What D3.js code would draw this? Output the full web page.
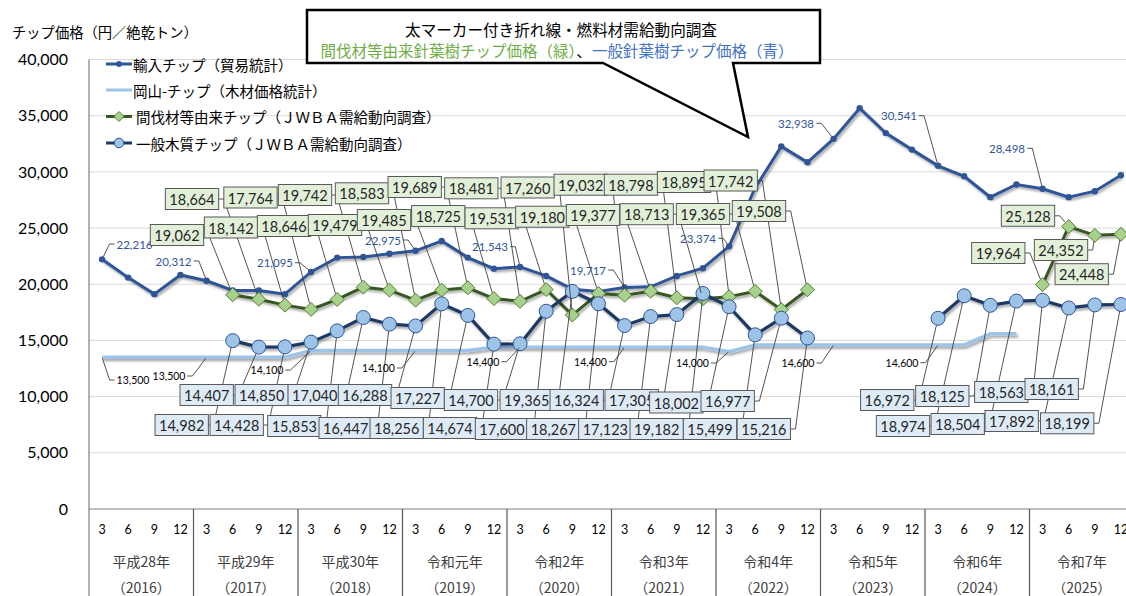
<!DOCTYPE html>
<html>
<head>
<meta charset="utf-8">
<script src="https://cdn.jsdelivr.net/npm/d3@7"></script>
<style>
  body { margin: 0; background: #fff; }
  svg { display: block; font-family: Lato, "Noto Sans CJK JP", sans-serif; }
  .jp { font-family: "Noto Sans CJK JP", sans-serif; }
</style>
</head>
<body>
<script>
// ---- data (quarterly, Mar 2016 .. Dec 2025) ----
var eraYears = ["平成28年", "平成29年", "平成30年", "令和元年", "令和2年", "令和3年", "令和4年", "令和5年", "令和6年", "令和7年"];
var westYears = ["（2016）", "（2017）", "（2018）", "（2019）", "（2020）", "（2021）", "（2022）", "（2023）", "（2024）", "（2025）"];
var months = ["3", "6", "9", "12"];

var seriesNames = ["輸入チップ（貿易統計）", "岡山-チップ（木材価格統計）",
  "間伐材等由来チップ（ＪＷＢＡ需給動向調査）", "一般木質チップ（ＪＷＢＡ需給動向調査）"];

// 輸入チップ
var importChip = [22216, 20590, 19120, 20830, 20312, 19450, 19450, 19120,
  21095, 22370, 22430, 22720, 22975, 23850, 22370, 21390,
  21543, 20740, 19560, 19350, 19717, 19770, 20740, 21430,
  23374, 28570, 32270, 30850, 32938, 35670, 33450, 31980,
  30541, 29610, 27750, 28880, 28498, 27750, 28280, 29700];
// 岡山-チップ
var okayamaChip = [13500, 13500, 13500, 13500, 13500, 13500, 13500, 13500,
  14100, 14100, 14100, 14100, 14100, 14100, 14100, 14400,
  14400, 14400, 14400, 14400, 14400, 14400, 14400, 14400,
  14000, 14600, 14600, 14600, 14600, 14600, 14600, 14600,
  14600, 14600, 15600, 15600];
// 間伐材等由来チップ
var thinningChip = [null, null, null, null, null, 19062, 18664, 18142,
  17764, 18646, 19742, 19479, 18583, 19485, 19689, 18725,
  18481, 19531, 17260, 19180, 19032, 19377, 18798, 18713,
  18895, 19365, 17742, 19508, null, null, null, null,
  null, null, null, null, 19964, 25128, 24352, 24448];
// 一般木質チップ
var generalChip = [null, null, null, null, null, 14982, 14407, 14428,
  14850, 15853, 17040, 16447, 16288, 18256, 17227, 14674,
  14700, 17600, 19365, 18267, 16324, 17123, 17305, 19182,
  18002, 15499, 16977, 15216, null, null, null, null,
  16972, 18974, 18125, 18504, 18563, 17892, 18161, 18199];

var importLabelIdx = [0, 4, 8, 12, 16, 20, 24, 28, 32, 36];
var okayamaLabelIdx = [0, 4, 8, 12, 16, 20, 24, 28, 32];

// ---- label layout (label centres, pixels) ----
var importLabelAt = [[134.5, 244], [173.5, 261], [275, 262.7], [383, 240], [490, 246.7],
  [588, 270], [698, 238.3], [796, 123.3], [899, 115.7], [1007, 148.3]];
var okayamaLabelAt = [[133, 380], [169, 376], [267, 370], [378.5, 368], [483, 361.7],
  [590.5, 361.7], [692.5, 363], [798, 363], [902, 362.7]];
var thinningLabelAt = [[177, 235], [192, 199], [231, 227.5], [250.5, 197.5], [284, 226], [305, 195],
  [335, 225], [362, 193.3], [384, 220], [414.7, 187], [438.3, 216], [471.3, 188.3], [491.7, 218.3],
  [527.7, 187.5], [542.3, 216.7], [580.7, 184.7], [593, 215], [631, 184.7], [646.7, 214.2],
  [684, 182], [703, 214], [730.7, 180.5], [759, 211],
  [998.3, 253], [1028, 215.8], [1061, 250], [1081.7, 274.2]];
var generalLabelAt = [[181.7, 425], [206.7, 395], [236.7, 425], [261.7, 395], [294.3, 426], [314.7, 395],
  [345.7, 428], [365, 395], [396.7, 428], [417.7, 398], [450, 428], [471, 400], [502, 429],
  [526.7, 400], [553.3, 429], [576.7, 400], [605.3, 429], [631.7, 400], [656.7, 429],
  [676.3, 402.5], [710, 429], [727.7, 401], [763.8, 429],
  [887.2, 400], [903, 426], [942.3, 396], [957.7, 424], [1001.3, 392], [1011.7, 421],
  [1051.7, 389], [1067.2, 423.3]];

// ---- chart ----
var W = 1126, H = 596;
var svg = d3.select("body").append("svg").attr("width", W).attr("height", H);

var defs = svg.append("defs");
defs.append("filter").attr("id", "sh").attr("x", "-5%").attr("y", "-20%")
    .attr("width", "110%").attr("height", "140%")
  .append("feDropShadow").attr("dx", 1.5).attr("dy", 2.2).attr("stdDeviation", 1)
    .attr("flood-color", "#000").attr("flood-opacity", 0.35);

var x = d3.scaleBand().domain(d3.range(40)).range([89, 1134]);
var y = d3.scaleLinear().domain([0, 40000]).range([509, 59.5]);
function px(i) { return x(i) + x.bandwidth() / 2; }
var fmt = d3.format(",");

// gridlines
svg.append("g").selectAll("line")
  .data(d3.range(5000, 40001, 5000))
  .join("line")
  .attr("x1", 89).attr("x2", W)
  .attr("y1", d => y(d)).attr("y2", d => y(d))
  .attr("stroke", "#d9d9d9").attr("stroke-width", 1);

// y axis
var yAxis = svg.append("g").attr("transform", "translate(89,0)")
  .call(d3.axisLeft(y).tickValues(d3.range(0, 40001, 5000)).tickSize(0).tickPadding(21).tickFormat(fmt));
yAxis.select(".domain").remove();
yAxis.selectAll("text").attr("font-family", "Lato").attr("font-size", 16).attr("fill", "#000");

svg.append("text").attr("class", "jp").attr("x", 12).attr("y", 38)
  .attr("font-size", 14.3).attr("fill", "#000").text("チップ価格（円／絶乾トン）");

// x axis as a table
var xAxis = svg.append("g").attr("transform", "translate(0,509)")
  .call(d3.axisBottom(x).tickSize(0).tickPadding(16).tickFormat(i => months[i % 4]));
xAxis.select(".domain").remove();
xAxis.selectAll("text").attr("font-family", "Lato").attr("font-size", 12.5).attr("fill", "#000");

svg.append("line").attr("x1", 89).attr("x2", W).attr("y1", y(0)).attr("y2", y(0))
  .attr("stroke", "#7f7f7f").attr("stroke-width", 1.2);
svg.append("line").attr("x1", 89).attr("x2", 89).attr("y1", y(40000)).attr("y2", H)
  .attr("stroke", "#7f7f7f").attr("stroke-width", 1.2);
svg.append("g").selectAll("line")
  .data(d3.range(1, 11))
  .join("line")
  .attr("x1", d => x(0) + d * 4 * x.bandwidth()).attr("x2", d => x(0) + d * 4 * x.bandwidth())
  .attr("y1", y(0)).attr("y2", H)
  .attr("stroke", "#595959").attr("stroke-width", 1.2);

var yearG = svg.append("g").attr("class", "jp").attr("text-anchor", "middle").attr("fill", "#404040");
yearG.selectAll("text.era").data(eraYears).join("text").attr("class", "era")
  .attr("x", (d, i) => x(i * 4) + 2 * x.bandwidth()).attr("y", 566.5)
  .attr("font-size", 14).text(d => d);
yearG.selectAll("text.west").data(westYears).join("text").attr("class", "west")
  .attr("x", (d, i) => x(i * 4) + 2 * x.bandwidth()).attr("y", 592.5)
  .attr("font-size", 14).text(d => d);

// lines
function lineOf(arr) {
  return d3.line().defined(d => d != null).x((d, i) => px(i)).y(d => y(d))(arr);
}

svg.append("path").attr("d", lineOf(okayamaChip)).attr("fill", "none")
  .attr("stroke", "#9dc3e6").attr("stroke-width", 3.5).attr("filter", "url(#sh)");

svg.append("path").attr("d", lineOf(importChip)).attr("fill", "none")
  .attr("stroke", "#2f5597").attr("stroke-width", 3).attr("filter", "url(#sh)");
svg.append("g").selectAll("circle").data(importChip).join("circle")
  .attr("cx", (d, i) => px(i)).attr("cy", d => y(d)).attr("r", 3.2).attr("fill", "#2f5597");

var diamond = "M0,-7L7,0L0,7L-7,0Z";
svg.append("path").attr("d", lineOf(thinningChip)).attr("fill", "none")
  .attr("stroke", "#385723").attr("stroke-width", 3).attr("filter", "url(#sh)");
svg.append("g").selectAll("path")
  .data(thinningChip.map((d, i) => [d, i]).filter(p => p[0] != null))
  .join("path")
  .attr("d", diamond)
  .attr("transform", p => "translate(" + px(p[1]) + "," + y(p[0]) + ")")
  .attr("fill", "#a9d18e").attr("stroke", "#507e32").attr("stroke-width", 1);

svg.append("path").attr("d", lineOf(generalChip)).attr("fill", "none")
  .attr("stroke", "#1f3864").attr("stroke-width", 3.2).attr("filter", "url(#sh)");
svg.append("g").selectAll("circle")
  .data(generalChip.map((d, i) => [d, i]).filter(p => p[0] != null))
  .join("circle")
  .attr("cx", p => px(p[1])).attr("cy", p => y(p[0])).attr("r", 7)
  .attr("fill", "#9dc3e6").attr("stroke", "#2f5597").attr("stroke-width", 1);

// ---- data labels with leader lines ----
var labG = svg.append("g");
var leadG = labG.append("g");

function leader(b, tx, ty, r) {
  var cx = (b.x0 + b.x1) / 2, cy = (b.y0 + b.y1) / 2, pts;
  if (tx > b.x1) pts = [[b.x1, cy], [b.x1 + 5, cy]];
  else if (tx < b.x0) pts = [[b.x0, cy], [b.x0 - 5, cy]];
  else if (ty < b.y0) pts = [[cx, b.y0]];
  else pts = [[cx, b.y1]];
  var last = pts[pts.length - 1];
  var dx = tx - last[0], dy = ty - last[1], len = Math.sqrt(dx * dx + dy * dy);
  if (len > r) pts.push([tx - dx / len * r, ty - dy / len * r]);
  leadG.append("path").attr("d", d3.line()(pts)).attr("fill", "none")
    .attr("stroke", "#404040").attr("stroke-width", 0.9);
}

function plainLabel(arr, idx, at, color, size, r) {
  idx.forEach(function (i, k) {
    var t = labG.append("text").attr("x", at[k][0]).attr("y", at[k][1])
      .attr("text-anchor", "middle").attr("dominant-baseline", "central")
      .attr("font-family", "Lato").attr("font-size", size).attr("fill", color)
      .text(fmt(arr[i]));
    var bb = t.node().getBBox();
    leader({ x0: bb.x - 2, x1: bb.x + bb.width + 2, y0: bb.y, y1: bb.y + bb.height },
      px(i), y(arr[i]), r);
  });
}

function boxLabel(arr, at, fill, r) {
  var pts = arr.map((d, i) => [d, i]).filter(p => p[0] != null);
  pts.forEach(function (p, k) {
    var g = labG.append("g");
    var t = g.append("text").attr("x", at[k][0]).attr("y", at[k][1] + 0.5)
      .attr("text-anchor", "middle").attr("dominant-baseline", "central")
      .attr("font-family", "Lato").attr("font-size", 14.5).attr("fill", "#262626")
      .text(fmt(p[0]));
    var w = t.node().getComputedTextLength() + 8, h = 21;
    var b = { x0: at[k][0] - w / 2, x1: at[k][0] + w / 2, y0: at[k][1] - h / 2, y1: at[k][1] + h / 2 };
    g.insert("rect", "text").attr("x", b.x0).attr("y", b.y0).attr("width", w).attr("height", h)
      .attr("fill", fill).attr("stroke", "#595959").attr("stroke-width", 1);
    leader(b, px(p[1]), y(p[0]), r);
  });
}

plainLabel(okayamaChip, okayamaLabelIdx, okayamaLabelAt, "#000", 10.5, 1);
plainLabel(importChip, importLabelIdx, importLabelAt, "#2f5597", 11.5, 3);
boxLabel(thinningChip, thinningLabelAt, "#e2f0d9", 6);
boxLabel(generalChip, generalLabelAt, "#deebf7", 7);

// ---- legend ----
var legY = [64, 90, 116.5, 143];
var leg = svg.append("g");
leg.selectAll("text").data(seriesNames).join("text").attr("class", "jp")
  .attr("x", (d, i) => i < 2 ? 133 : 136).attr("y", (d, i) => legY[i])
  .attr("dominant-baseline", "central").attr("font-size", 14.5).attr("fill", "#000")
  .text(d => d);
var legColors = ["#2f5597", "#9dc3e6", "#385723", "#1f3864"];
leg.selectAll("line").data(legColors).join("line")
  .attr("x1", 106).attr("x2", 132).attr("y1", (d, i) => legY[i]).attr("y2", (d, i) => legY[i])
  .attr("stroke", d => d).attr("stroke-width", 3);
leg.append("circle").attr("cx", 119).attr("cy", legY[0]).attr("r", 3).attr("fill", "#2f5597");
leg.append("path").attr("d", "M0,-5L5,0L0,5L-5,0Z")
  .attr("transform", "translate(119," + legY[2] + ")")
  .attr("fill", "#a9d18e").attr("stroke", "#507e32");
leg.append("circle").attr("cx", 119).attr("cy", legY[3]).attr("r", 4.8)
  .attr("fill", "#9dc3e6").attr("stroke", "#2f5597");

// ---- callout ----
var call = svg.append("g");
call.append("path")
  .attr("d", "M307,10L820,10L820,63L733,63L748,137L603,63L307,63Z")
  .attr("fill", "#fff").attr("stroke", "#000").attr("stroke-width", 2.5)
  .attr("stroke-linejoin", "miter");
call.append("text").attr("class", "jp").attr("x", 561).attr("y", 28.5)
  .attr("text-anchor", "middle").attr("dominant-baseline", "central")
  .attr("font-size", 15.6).attr("fill", "#000")
  .text("太マーカー付き折れ線・燃料材需給動向調査");
var t2 = call.append("text").attr("class", "jp").attr("x", 557).attr("y", 49.5)
  .attr("text-anchor", "middle").attr("dominant-baseline", "central").attr("font-size", 15.5);
t2.append("tspan").attr("fill", "#70ad47").text("間伐材等由来針葉樹チップ価格（緑）");
t2.append("tspan").attr("fill", "#000").text("、");
t2.append("tspan").attr("fill", "#4472c4").text("一般針葉樹チップ価格（青）");
</script>
</body>
</html>
